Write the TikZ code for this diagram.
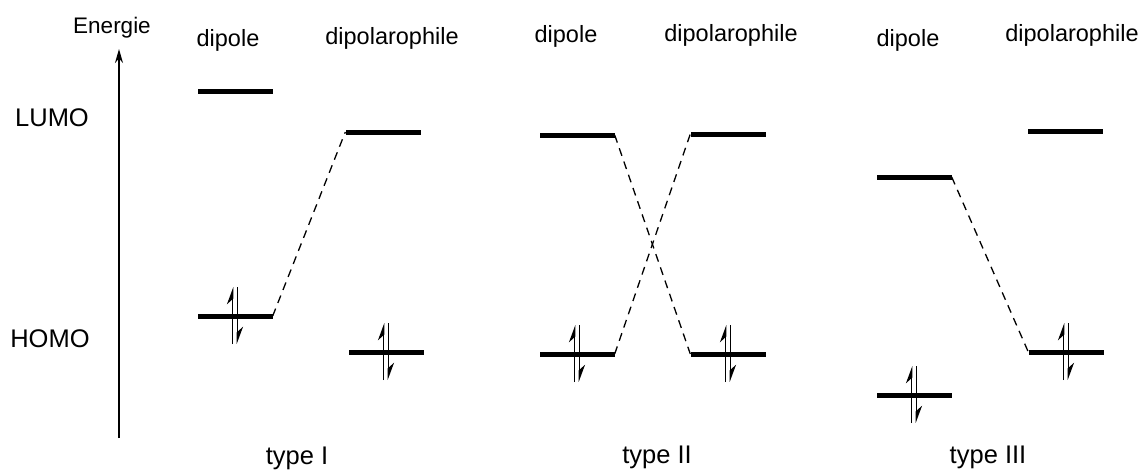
\documentclass[tikz,border=0pt]{standalone}
\usepackage{fontspec}
\setmainfont{Liberation Sans}
\usepackage{tikz}
\usetikzlibrary{positioning, arrows.meta}

\begin{document}
\begin{tikzpicture}[
  x=1pt, y=-1pt,
  every node/.style={font=\fontsize{24}{28}\selectfont, inner sep=0pt},
  orbital/.style={
    rectangle, fill=black, draw=none,
    minimum width=75pt, minimum height=5pt, inner sep=0pt
  },
  collabel/.style={anchor=base, font=\fontsize{23.5}{28}\selectfont},
  typelabel/.style={anchor=base, font=\fontsize{25.5}{30}\selectfont},
  levellabel/.style={font=\fontsize{25.5}{30}\selectfont},
  overlap/.style={dashed, dash pattern=on 8pt off 6pt, line width=1.3pt},
  elec/.style={line width=1.6pt, -{Stealth[length=15pt, width=11pt, harpoon]}},
]
\useasboundingbox (0,0) rectangle (1143,471);

% Energy axis
\coordinate (axbot) at (119,438);
\coordinate (axtop) at (119,49);
\draw[line width=1.8pt, -{Stealth[length=14pt, width=8pt]}] (axbot) -- (axtop);
\node[anchor=base, font=\fontsize{22.5}{26}\selectfont] (energie) at (112,33) {Energie};
\node[levellabel] (lumo) at (52,118) {LUMO};
\node[levellabel] (homo) at (50,339) {HOMO};

% type I
\node[orbital] (d1L) at (235,91) {};
\node[orbital] (d1H) at (235,316) {};
\node[orbital] (p1L) at (383,132) {};
\node[orbital] (p1H) at (386,352) {};

% type II
\node[orbital] (d2L) at (577,135) {};
\node[orbital] (d2H) at (577,354) {};
\node[orbital] (p2L) at (728,134) {};
\node[orbital] (p2H) at (728,354) {};

% type III
\node[orbital] (d3L) at (914,177) {};
\node[orbital] (d3H) at (914,395) {};
\node[orbital] (p3L) at (1065,131) {};
\node[orbital] (p3H) at (1066,352) {};

% Column labels
\node[collabel] (dip1) at (228,46) {dipole};
\node[collabel] (pol1) at (392,44) {dipolarophile};
\node[collabel] (dip2) at (566,42) {dipole};
\node[collabel] (pol2) at (731,41) {dipolarophile};
\node[collabel] (dip3) at (908,46) {dipole};
\node[collabel] (pol3) at (1072,41) {dipolarophile};

\node[typelabel] (type1) at (297,464) {type I};
\node[typelabel] (type2) at (657,463) {type II};
\node[typelabel] (type3) at (988,463) {type III};

% Frontier orbital interactions
\draw[overlap] (d1H.east) -- (p1L.west);
\draw[overlap] (d2L.east) -- (p2H.west);
\draw[overlap] (d2H.east) -- (p2L.west);
\draw[overlap] (d3L.east) -- (p3H.west);

% Electron pairs
\foreach \o in {d1H,p1H,d2H,p2H,d3H,p3H} {
  \draw[elec] ([xshift=-2.5pt, yshift=-28pt]\o.center) -- ([xshift=-2.5pt, yshift=29pt]\o.center);
  \draw[elec] ([xshift=2.5pt, yshift=29pt]\o.center) -- ([xshift=2.5pt, yshift=-28pt]\o.center);
}

\end{tikzpicture}
\end{document}
